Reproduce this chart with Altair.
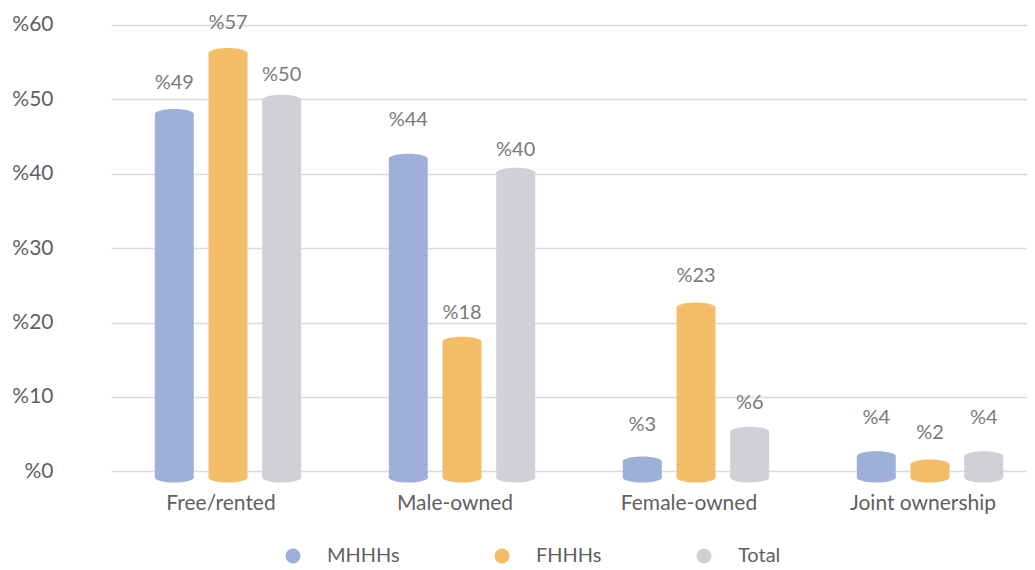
import altair as alt
import pandas as pd

categories = ["Free/rented", "Male-owned", "Female-owned", "Joint ownership"]
groups = ["MHHHs", "FHHHs", "Total"]
mhhh_values = [48.7, 42.7, 2.0, 2.7]
fhhh_values = [56.9, 18.1, 22.7, 1.6]
total_values = [50.6, 40.8, 6.0, 2.7]
mhhh_labels = [49, 44, 3, 4]
fhhh_labels = [57, 18, 23, 2]
total_labels = [50, 40, 6, 4]
colors = ["#9EAFD9", "#F2BD66", "#D0D1D6"]
y_ticks = [0, 10, 20, 30, 40, 50, 60]

rows = []
for g, vals, labs in zip(groups, [mhhh_values, fhhh_values, total_values],
                         [mhhh_labels, fhhh_labels, total_labels]):
    for c, v, l in zip(categories, vals, labs):
        rows.append({"category": c, "group": g, "value": v,
                     "label_value": l, "label": f"%{l}"})
df = pd.DataFrame(rows)

FONT = "Lato"
TEXT = "#5f5f5f"
ELLIPSE = "M-1,0 A1,0.26 0 1,1 1,0 A1,0.26 0 1,1 -1,0 Z"

x = alt.X("category:N", sort=categories,
          scale=alt.Scale(range=[0, 936], paddingInner=0, paddingOuter=0),
          axis=alt.Axis(title=None, labelAngle=0, domain=False, ticks=False,
                        grid=False, labelPadding=21, labelFontSize=21,
                        labelColor=TEXT, labelFont=FONT, labelOffset=-7))
xoff = alt.XOffset("group:N", sort=groups,
                   scale=alt.Scale(paddingInner=0.274, paddingOuter=0.816))
yscale = alt.Scale(domain=[0, 60], nice=False)
yaxis = alt.Axis(values=y_ticks, labelExpr="'%' + datum.value", domain=False,
                 ticks=False, labelPadding=58, labelFontSize=21,
                 labelColor=TEXT, labelFont=FONT, gridColor="#DADADA",
                 gridWidth=1.5, title=None)
color_legend = alt.Color(
    "group:N", sort=groups, scale=alt.Scale(domain=groups, range=colors),
    legend=alt.Legend(title=None, orient="none", direction="horizontal",
                      legendX=172, legendY=521, symbolType="circle",
                      symbolSize=227, symbolStrokeWidth=0, labelFontSize=20,
                      labelFont=FONT, labelColor=TEXT, labelOffset=24,
                      columnPadding=92, padding=0))
color_plain = alt.Color("group:N", sort=groups,
                        scale=alt.Scale(domain=groups, range=colors), legend=None)

base = alt.Chart(df).encode(x=x, xOffset=xoff)

bars = base.mark_bar(yOffset=5, y2Offset=6).encode(
    y=alt.Y("value:Q", scale=yscale, axis=yaxis),
    y2=alt.datum(0),
    color=color_legend,
)
top_caps = base.mark_point(shape=ELLIPSE, size=1521, filled=True, opacity=1,
                           strokeWidth=0, yOffset=5).encode(
    y=alt.Y("value:Q"), color=color_plain)
bottom_caps = base.mark_point(shape=ELLIPSE, size=1521, filled=True, opacity=1,
                              strokeWidth=0, yOffset=6).encode(
    y=alt.datum(0), color=color_plain)
labels = base.mark_text(dy=-24, fontSize=20, font=FONT, color="#7a7a7a").encode(
    y=alt.Y("label_value:Q"), text="label:N")

chart = alt.layer(bars, bottom_caps, top_caps, labels).properties(
    width=916, height=446.4,
    autosize=alt.AutoSizeParams(type="none"),
    padding={"left": 103, "top": 17, "right": 0, "bottom": 98},
).configure_view(stroke=None)

chart.save("out.html", embed_options={"renderer": "svg", "actions": False})
